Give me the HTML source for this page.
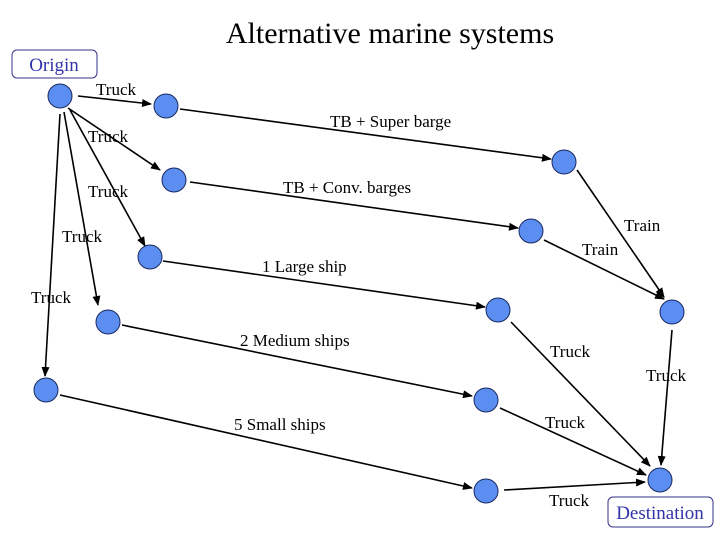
<!DOCTYPE html>
<html><head><meta charset="utf-8"><style>
body{margin:0;background:#fff;width:720px;height:540px;overflow:hidden}
svg text{font-family:"Liberation Serif",serif;fill:#000}
</style></head><body>
<svg width="720" height="540" viewBox="0 0 720 540">
<defs><marker id="a" markerWidth="10" markerHeight="8" refX="9" refY="4" orient="auto" markerUnits="userSpaceOnUse"><path d="M0,0 L10,4 L0,8 z" fill="#000"/></marker></defs>
<text x="390" y="43" font-size="30" text-anchor="middle">Alternative marine systems</text>
<rect x="12" y="50" width="85" height="28" rx="5" fill="#fff" stroke="#33338a"/>
<text x="54" y="71" font-size="19" text-anchor="middle" style="fill:#3333aa">Origin</text>
<rect x="608" y="497" width="105" height="30" rx="5" fill="#fff" stroke="#33338a"/>
<text x="660" y="519" font-size="19" text-anchor="middle" style="fill:#3333aa">Destination</text>
<g stroke="#000" stroke-width="1.6" fill="none" marker-end="url(#a)">
<line x1="78" y1="96" x2="151" y2="104"/>
<line x1="68" y1="108" x2="160" y2="170"/>
<line x1="70" y1="110" x2="145" y2="246"/>
<line x1="64" y1="112" x2="98" y2="305"/>
<line x1="60" y1="114" x2="45" y2="376"/>
<line x1="180" y1="109" x2="551" y2="159"/>
<line x1="190" y1="182" x2="518" y2="228"/>
<line x1="163" y1="261" x2="485" y2="307"/>
<line x1="122" y1="325" x2="472" y2="396"/>
<line x1="60" y1="395" x2="472" y2="488"/>
<line x1="577" y1="170" x2="664" y2="297"/>
<line x1="544" y1="240" x2="664" y2="299"/>
<line x1="511" y1="322" x2="650" y2="466"/>
<line x1="672" y1="330" x2="661" y2="465"/>
<line x1="500" y1="408" x2="646" y2="475"/>
<line x1="504" y1="490" x2="645" y2="482"/>
</g>
<g fill="#5b8ef0" stroke="#1a2a60" stroke-width="1">
<circle cx="60" cy="96" r="12"/><circle cx="166" cy="106" r="12"/><circle cx="174" cy="180" r="12"/>
<circle cx="150" cy="257" r="12"/><circle cx="108" cy="322" r="12"/><circle cx="46" cy="390" r="12"/>
<circle cx="564" cy="162" r="12"/><circle cx="531" cy="231" r="12"/><circle cx="498" cy="310" r="12"/>
<circle cx="486" cy="400" r="12"/><circle cx="486" cy="491" r="12"/><circle cx="672" cy="312" r="12"/>
<circle cx="660" cy="480" r="12"/>
</g>
<g font-size="17">
<text x="96" y="95">Truck</text><text x="88" y="142">Truck</text><text x="88" y="197">Truck</text>
<text x="62" y="242">Truck</text><text x="31" y="303">Truck</text>
<text x="330" y="127">TB + Super barge</text><text x="283" y="193">TB + Conv. barges</text>
<text x="262" y="272">1 Large ship</text><text x="240" y="346">2 Medium ships</text><text x="234" y="430">5 Small ships</text>
<text x="624" y="231">Train</text><text x="582" y="255">Train</text>
<text x="550" y="357">Truck</text><text x="646" y="381">Truck</text>
<text x="545" y="428">Truck</text><text x="549" y="506">Truck</text>
</g>
</svg>
</body></html>
